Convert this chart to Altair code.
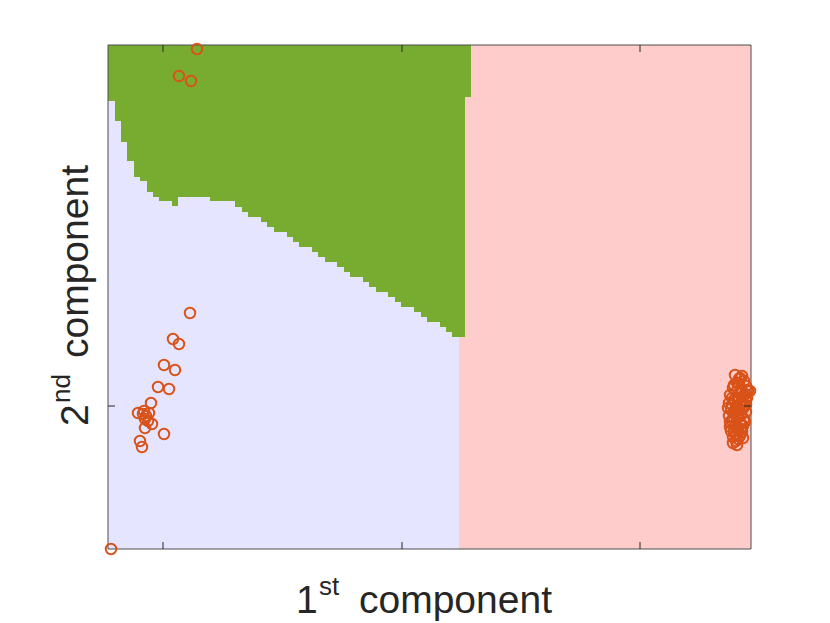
import altair as alt
import pandas as pd

# ---- data (plot units: x 0..643, y 0..504) ----
XMAX, YMAX = 643, 504

# green region: columns of the decision grid (x start, x end, lower edge)
green_x0 = [0, 7, 13, 19, 26, 32, 39, 45, 51, 64, 70, 102, 127, 134, 140, 153, 159, 166, 179, 185,
            191, 204, 210, 217, 229, 236, 242, 255, 261, 268, 280, 287, 293, 306, 313, 319, 332, 338, 344, 357]
green_x1 = [7, 13, 19, 26, 32, 39, 45, 51, 64, 70, 102, 127, 134, 140, 153, 159, 166, 179, 185, 191,
            204, 210, 217, 229, 236, 242, 255, 261, 268, 280, 287, 293, 306, 313, 319, 332, 338, 344, 357, 363]
green_lo = [448, 428, 407, 388, 372, 368, 357, 352, 348, 343, 352, 348, 342, 337, 332, 327, 322, 317, 312, 307,
            302, 297, 292, 287, 282, 277, 272, 267, 262, 257, 252, 247, 242, 237, 232, 227, 222, 217, 212, 452]

# pink region bands (x start, y low, y high)
pink_x0 = [363, 357, 351]
pink_lo = [452, 212, 0]
pink_hi = [504, 452, 212]

# scatter points
pts_x = [89, 71, 83, 82, 65, 71, 56, 67, 50, 61, 43, 30, 35, 41, 37, 44, 37, 56, 32, 34, 3,
         38, 40, 36,
         632, 636, 629, 638, 625, 633, 640, 628, 622, 635, 630, 626, 638, 621, 632, 628, 636, 623,
         631, 638, 625, 633, 621, 629, 636, 624, 632, 627, 635, 622, 630, 626, 634, 628, 632, 625,
         630, 628, 637, 624, 634, 630, 638, 639, 627, 642,
         620, 624, 627, 631, 635, 639, 622, 626, 630, 634, 637, 623, 628, 633, 626, 631, 629, 633,
         625, 629, 635, 631, 627, 634]
pts_y = [500, 473, 468, 236, 210, 205, 184, 179, 162, 160, 146, 136, 135, 136, 130, 125, 121, 115, 108, 102, 0,
         133, 128, 138,
         171, 168, 166, 163, 161, 160, 158, 157, 154, 153, 151, 149, 148, 146, 145, 143, 142, 140,
         139, 137, 136, 134, 133, 131, 130, 128, 126, 124, 123, 122, 120, 118, 117, 115, 113, 112,
         110, 108, 155, 151, 148, 132, 144, 159, 137, 158,
         141, 144, 147, 150, 146, 151, 127, 131, 135, 139, 127, 118, 121, 125, 164, 166, 115, 119,
         106, 104, 111, 170, 174, 173]

xticks = [55, 294, 532]
yticks = [143]

LAVENDER = "#E5E5FF"
GREEN = "#77AC30"
PINK = "#FFCCCC"
ORANGE = "#D95319"
AXCOL = "#262626"
FONT = "Liberation Sans"

xs = alt.Scale(domain=[0, XMAX], nice=False, zero=False)
ys = alt.Scale(domain=[0, YMAX], nice=False, zero=False)

bg = alt.Chart(pd.DataFrame({"x0": [0], "x1": [XMAX], "y0": [0], "y1": [YMAX]})).mark_rect(
    color=LAVENDER).encode(
    x=alt.X("x0:Q", scale=xs, axis=None), x2="x1", y=alt.Y("y0:Q", scale=ys, axis=None), y2="y1")

gdf = pd.DataFrame({"x0": green_x0, "x1": green_x1, "lo": green_lo, "hi": [YMAX] * len(green_lo)})
green = alt.Chart(gdf).mark_rect(color=GREEN).encode(
    x=alt.X("x0:Q", scale=xs, axis=None), x2="x1", y=alt.Y("lo:Q", scale=ys, axis=None), y2="hi")

pdf = pd.DataFrame({"x0": pink_x0, "x1": [XMAX] * 3, "lo": pink_lo, "hi": pink_hi})
pink = alt.Chart(pdf).mark_rect(color=PINK).encode(
    x=alt.X("x0:Q", scale=xs, axis=None), x2="x1", y=alt.Y("lo:Q", scale=ys, axis=None), y2="hi")

points = alt.Chart(pd.DataFrame({"x": pts_x, "y": pts_y})).mark_point(
    shape="circle", filled=False, color=ORANGE, size=110, strokeWidth=2, opacity=1).encode(
    x=alt.X("x:Q", scale=xs, axis=None), y=alt.Y("y:Q", scale=ys, axis=None))

xt = pd.DataFrame({"t": xticks})
yt = pd.DataFrame({"t": yticks})
tick_b = alt.Chart(xt).mark_rule(color=AXCOL, strokeWidth=1).encode(
    x=alt.X("t:Q", scale=xs, axis=None), y=alt.value(YMAX), y2=alt.value(YMAX - 7))
tick_t = alt.Chart(xt).mark_rule(color=AXCOL, strokeWidth=1).encode(
    x=alt.X("t:Q", scale=xs, axis=None), y=alt.value(0), y2=alt.value(7))
tick_l = alt.Chart(yt).mark_rule(color=AXCOL, strokeWidth=1).encode(
    y=alt.Y("t:Q", scale=ys, axis=None), x=alt.value(0), x2=alt.value(7))
tick_r = alt.Chart(yt).mark_rule(color=AXCOL, strokeWidth=1).encode(
    y=alt.Y("t:Q", scale=ys, axis=None), x=alt.value(XMAX), x2=alt.value(XMAX - 7))

frame = alt.Chart(pd.DataFrame({"a": [0]})).mark_rect(
    filled=False, stroke="#4D4D4D", strokeWidth=1).encode(
    x=alt.value(0), x2=alt.value(XMAX), y=alt.value(0), y2=alt.value(YMAX))


def label(text, size, x, y, angle=0):
    return alt.Chart(pd.DataFrame({"t": [text]})).mark_text(
        font=FONT, fontSize=size, color=AXCOL, align="left", baseline="alphabetic", angle=angle).encode(
        text="t:N", x=alt.value(x), y=alt.value(y))


titles = [
    label("1", 39, 188, 568),
    label("st", 26, 211, 550),
    label("component", 39, 251, 568),
    label("2", 39, -20, 381, 270),
    label("nd", 26, -38, 358, 270),
    label("component", 39, -20, 313, 270),
]

chart = alt.layer(bg, green, pink, frame, points, tick_b, tick_t, tick_l, tick_r, *titles).properties(
    width=XMAX, height=YMAX,
    autosize=alt.AutoSizeParams(type="none"),
    padding={"left": 100, "top": 37, "right": 71, "bottom": 73},
).configure_view(stroke=None)

chart.save("out.html", embed_options={"renderer": "svg", "actions": False})
